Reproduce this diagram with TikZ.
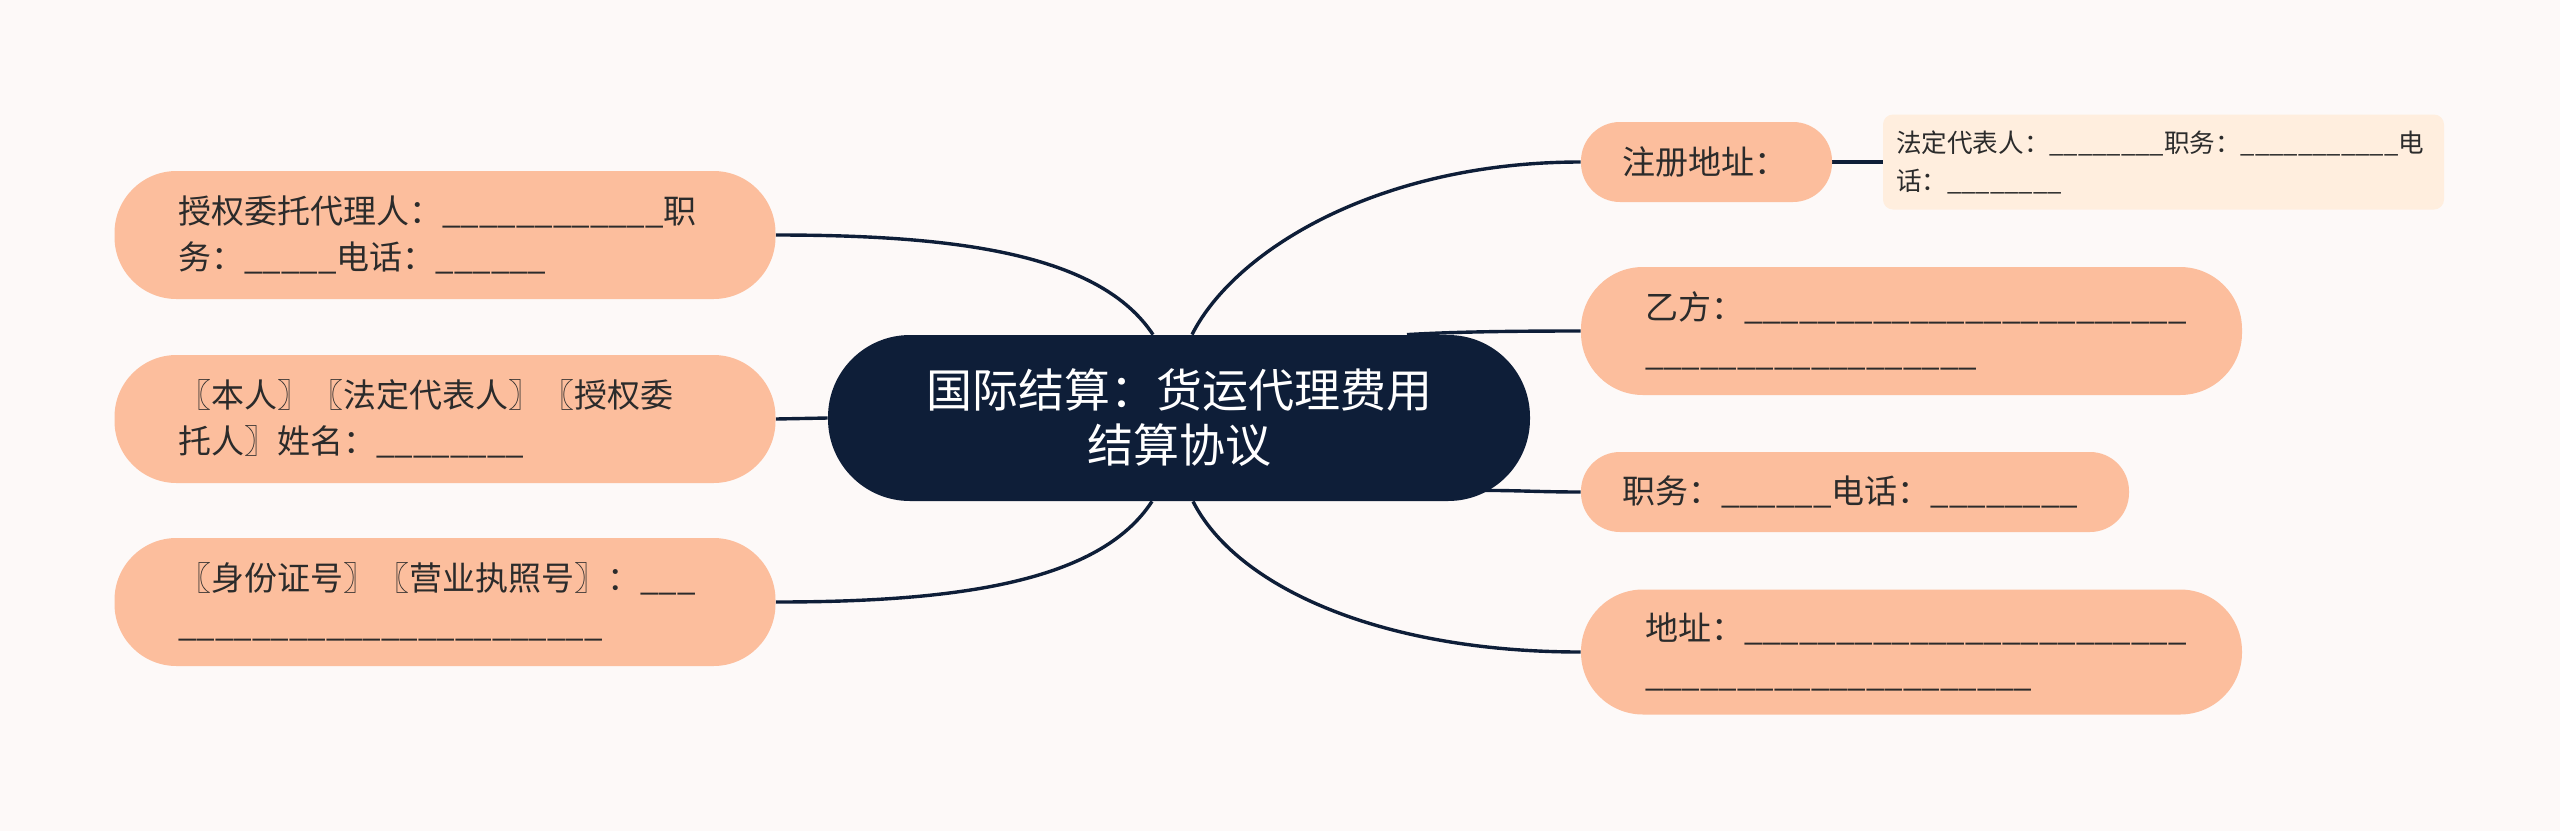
\documentclass[tikz,border=0pt]{standalone}
\usepackage{fontspec}
\setmainfont{Noto Sans CJK SC}
\usetikzlibrary{backgrounds,calc}
\definecolor{bgc}{HTML}{FDF9F8}
\definecolor{peach}{HTML}{FCBE9D}
\definecolor{cream}{HTML}{FFEEDE}
\definecolor{navy}{HTML}{0E1E38}
\definecolor{txt}{HTML}{2B2B2B}
\ExplSyntaxOn
\cs_new:Npn \ublank #1 {\prg_replicate:nn {#1} {\textunderscore}}
\ExplSyntaxOff
\begin{document}
\begin{tikzpicture}[x=0.5pt,y=-0.5pt,
  hub/.style={fill=navy,text=white,rounded corners=41pt,minimum width=351pt,minimum height=83pt,
    align=center,inner sep=0pt,font=\fontsize{23}{27.5}\selectfont},
  leaf/.style={fill=peach,text=txt,align=left,inner ysep=0pt,font=\fontsize{16.5}{23}\selectfont},
  bigleaf/.style={leaf,rounded corners=31pt,minimum height=64pt,inner xsep=32pt,text width=266.5pt},
  smallleaf/.style={leaf,rounded corners=19.5pt,minimum height=40pt,inner xsep=20.5pt},
  note/.style={fill=cream,text=txt,rounded corners=5pt,minimum height=47.5pt,inner xsep=6.5pt,inner ysep=0pt,
    text width=267.5pt,align=left,font=\fontsize{12.8}{19}\selectfont},
  conn/.style={draw=navy,line width=1.7pt}]
\useasboundingbox (0,0) rectangle (2560,831);
\node[hub] (c) at (1179,418) {国际结算：货运代理费用\\结算协议};
\node[bigleaf] (l1) at (445,235) {授权委托代理人：\ublank{12}职\\务：\ublank{5}电话：\ublank{6}};
\node[bigleaf] (l2) at (445,419) {〖本人〗〖法定代表人〗〖授权委\\托人〗姓名：\ublank{8}};
\node[bigleaf] (l3) at (445,602) {〖身份证号〗〖营业执照号〗：\ublank{3}\\\ublank{23}};
\node[smallleaf,text width=84.5pt] (r1) at (1706.5,162) {注册地址：};
\node[note] (r1c) at (2163.5,162) {法定代表人：\ublank{8}职务：\ublank{11}电\\话：\ublank{8}};
\node[bigleaf] (r2) at (1911.5,331) {乙方：\ublank{24}\\\ublank{18}};
\node[smallleaf,text width=233pt] (r3) at (1855,492) {职务：\ublank{6}电话：\ublank{8}};
\node[bigleaf,minimum height=62.5pt] (r4) at (1911.5,652) {地址：\ublank{24}\\\ublank{21}};
\begin{scope}[on background layer]
\fill[bgc] (0,0) rectangle (2560,831);
\draw[conn] ($(c.north)+(-26,0)$) .. controls +(-53,-80) and +(184,0) .. (l1.east);
\draw[conn] (c.west) -- (l2.east);
\draw[conn] ($(c.south)+(-27,0)$) .. controls +(-52,80) and +(184,0) .. (l3.east);
\draw[conn] ($(c.north)+(13,0)$) .. controls +(43,-85) and +(-201,0) .. (r1.west);
\draw[conn] (r1.east) -- (r1c.west);
\draw[conn] ($(c.north)+(228,0)$) .. controls +(50,-3) and +(-60,0) .. (r2.west);
\draw[conn] ($(c.south east)+(-50,-11)$) .. controls +(40,0) and +(-40,0) .. (r3.west);
\draw[conn] ($(c.south)+(14,0)$) .. controls +(43,85) and +(-201,0) .. (r4.west);
\end{scope}
\end{tikzpicture}
\end{document}
